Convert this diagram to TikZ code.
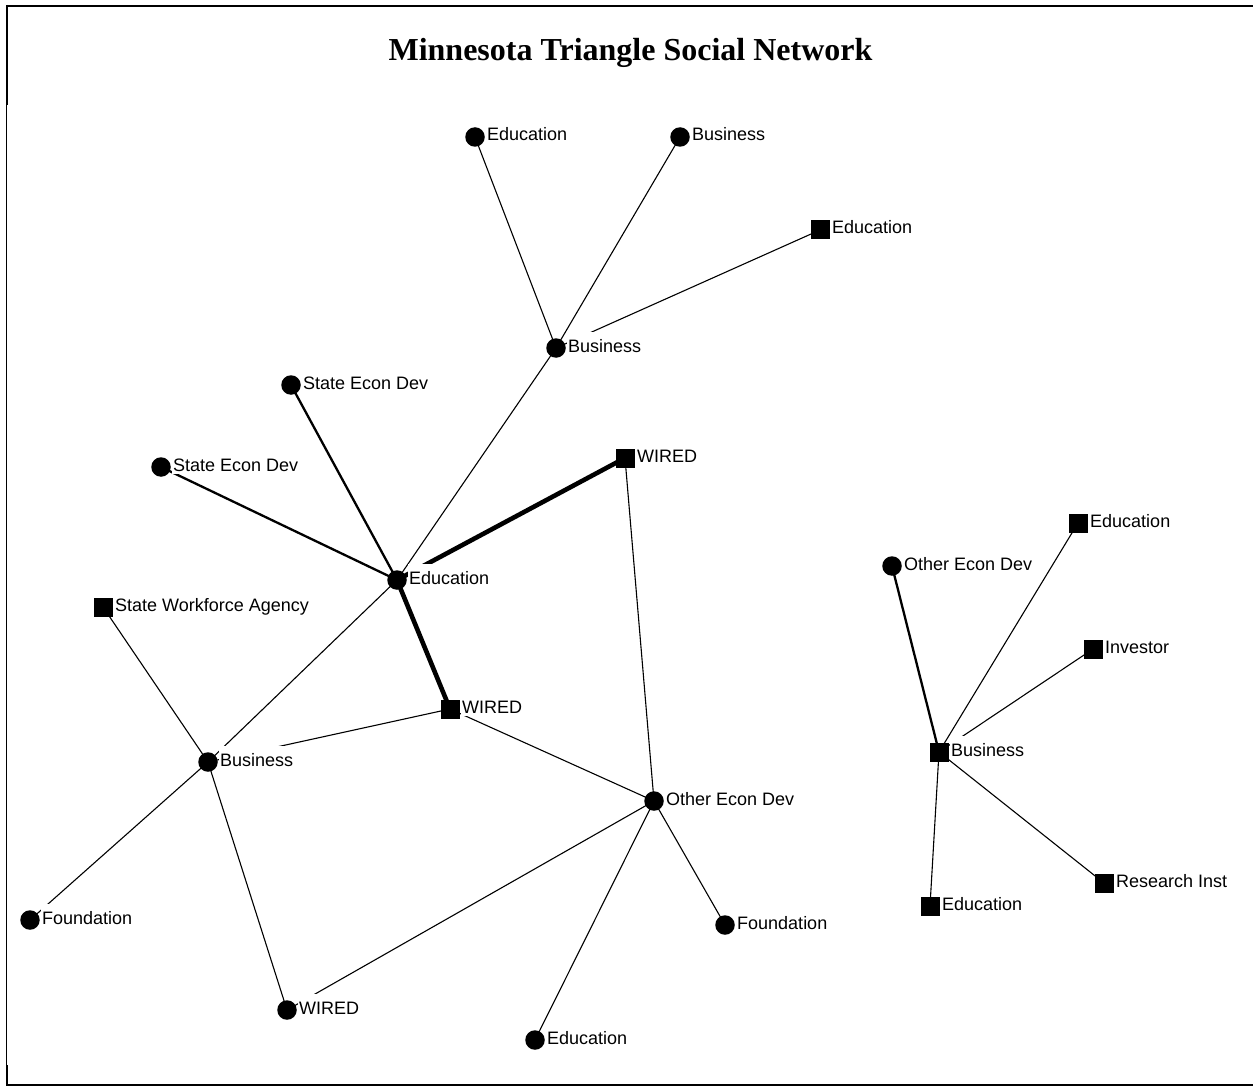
\documentclass[tikz,border=0pt]{standalone}
\usepackage{fontspec}
\setmainfont{Liberation Serif}
\newfontfamily\lblfont{Liberation Sans}
\usetikzlibrary{backgrounds}

% one network member: white-backed label first, then the marker on top
\newcommand\netnode[5]{%
  \node[tag] (#2-t) at ({#3+11},{#4+4}) {#5};
  \node[#1] (#2) at (#3,#4) {};}

\begin{document}
\begin{tikzpicture}[x=1pt,y=-1pt,
  person/.style={circle,fill=black,inner sep=0pt,minimum size=19.5pt},
  agency/.style={rectangle,fill=black,inner sep=0pt,minimum size=19pt},
  tag/.style={anchor=base west,fill=white,inner xsep=1pt,inner ysep=0pt,
    text height=20pt,text depth=3pt,font=\lblfont\fontsize{18}{21}\selectfont},
  tie/.style={line width=1.1pt},
  strongtie/.style={line width=2.3pt},
  heavytie/.style={line width=4.6pt},
  frame/.style={line width=2pt}]

\useasboundingbox (0,0) rectangle (1253,1086);

% page frame
\draw[frame] (7,6) -- (1253,6);
\draw[frame] (7,5) -- (7,105);
\draw[line width=1.3pt] (6.4,105) -- (6.4,1065);
\draw[frame] (7,1065) -- (7,1085) -- (1253,1085);

% title
\node[font=\bfseries\fontsize{32}{38}\selectfont,anchor=base] (title) at (630.5,61)
  {Minnesota Triangle Social Network};

% left component
\netnode{person}{edutop}{475}{137}{Education}
\netnode{person}{bustop}{680}{137}{Business}
\netnode{agency}{edusq}{820}{230}{Education}
\netnode{person}{busmid}{556}{348}{Business}
\netnode{person}{sedup}{291}{385}{State Econ Dev}
\netnode{person}{sedlow}{161}{467}{State Econ Dev}
\netnode{agency}{wiredtop}{625}{458}{WIRED}
\netnode{person}{educ}{397}{580}{Education}
\netnode{agency}{swa}{103}{607}{State Workforce Agency}
\netnode{agency}{wiredmid}{450}{709}{WIRED}
\netnode{person}{busleft}{208}{762}{Business}
\netnode{person}{oed}{654}{801}{Other Econ Dev}
\netnode{person}{foundl}{30}{920}{Foundation}
\netnode{person}{foundr}{725}{925}{Foundation}
\netnode{person}{wiredbot}{287}{1010}{WIRED}
\netnode{person}{edubot}{535}{1040}{Education}

% right component
\netnode{agency}{edutr}{1078}{523}{Education}
\netnode{person}{oedr}{892}{566}{Other Econ Dev}
\netnode{agency}{investor}{1093}{649}{Investor}
\netnode{agency}{busr}{939}{752}{Business}
\netnode{agency}{research}{1104}{883}{Research Inst}
\netnode{agency}{edubr}{930}{906}{Education}

\begin{scope}[on background layer]
  \draw[tie] (edutop.center) -- (busmid.center);
  \draw[tie] (bustop.center) -- (busmid.center);
  \draw[tie] (edusq.center) -- (busmid.center);
  \draw[tie] (busmid.center) -- (educ.center);
  \draw[strongtie] (sedup.center) -- (educ.center);
  \draw[strongtie] (sedlow.center) -- (educ.center);
  \draw[heavytie] (educ.center) -- (wiredtop.center);
  \draw[heavytie] (educ.center) -- (wiredmid.center);
  \draw[tie] (educ.center) -- (busleft.center);
  \draw[tie] (swa.center) -- (busleft.center);
  \draw[tie] (busleft.center) -- (wiredmid.center);
  \draw[tie] (busleft.center) -- (foundl.center);
  \draw[tie] (busleft.center) -- (wiredbot.center);
  \draw[tie] (wiredmid.center) -- (oed.center);
  \draw[tie] (wiredtop.center) -- (oed.center);
  \draw[tie] (oed.center) -- (wiredbot.center);
  \draw[tie] (oed.center) -- (foundr.center);
  \draw[tie] (oed.center) -- (edubot.center);

  \draw[strongtie] (oedr.center) -- (busr.center);
  \draw[tie] (busr.center) -- (edutr.center);
  \draw[tie] (busr.center) -- (investor.center);
  \draw[tie] (busr.center) -- (research.center);
  \draw[tie] (busr.center) -- (edubr.center);
\end{scope}
\end{tikzpicture}
\end{document}
